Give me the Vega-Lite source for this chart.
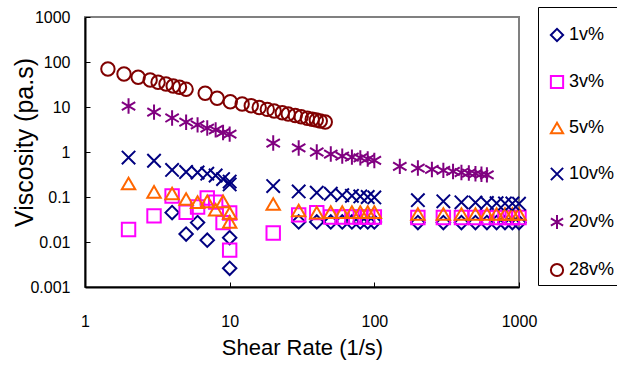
{
  "$schema": "https://vega.github.io/schema/vega-lite/v6.json",
  "width": 434,
  "height": 270,
  "autosize": {"type": "none"},
  "padding": {"left": 85, "top": 17, "right": 98, "bottom": 80},
  "background": "white",
  "config": {
    "view": {"stroke": "#808080", "strokeWidth": 2},
    "font": "Liberation Sans",
    "axis": {"grid": false, "domainColor": "black", "domainWidth": 2, "tickColor": "black", "tickWidth": 1, "tickSize": -5, "labelColor": "black", "titleColor": "black", "labelFont": "Liberation Sans", "titleFont": "Liberation Sans", "labelFontSize": 16, "titleFontWeight": "normal", "labelFlush": false, "labelOverlap": false}
  },
  "data": {"values": [
    {"s":"1v%","x":4,"y":0.045},{"s":"1v%","x":5,"y":0.015},{"s":"1v%","x":6,"y":0.027},{"s":"1v%","x":7,"y":0.011},{"s":"1v%","x":10,"y":0.0125},{"s":"1v%","x":10,"y":0.0026},
    {"s":"1v%","x":30,"y":0.028},{"s":"1v%","x":40,"y":0.028},{"s":"1v%","x":50,"y":0.028},{"s":"1v%","x":60,"y":0.028},{"s":"1v%","x":70,"y":0.028},{"s":"1v%","x":80,"y":0.028},{"s":"1v%","x":90,"y":0.028},{"s":"1v%","x":100,"y":0.028},
    {"s":"1v%","x":200,"y":0.027},{"s":"1v%","x":300,"y":0.027},{"s":"1v%","x":400,"y":0.027},{"s":"1v%","x":500,"y":0.027},{"s":"1v%","x":600,"y":0.027},{"s":"1v%","x":700,"y":0.027},{"s":"1v%","x":800,"y":0.027},{"s":"1v%","x":900,"y":0.027},{"s":"1v%","x":1000,"y":0.027},

    {"s":"3v%","x":2,"y":0.019},{"s":"3v%","x":3,"y":0.038},{"s":"3v%","x":4,"y":0.105},{"s":"3v%","x":5,"y":0.046},{"s":"3v%","x":6,"y":0.06},{"s":"3v%","x":7,"y":0.095},{"s":"3v%","x":8,"y":0.077},{"s":"3v%","x":9,"y":0.027},{"s":"3v%","x":10,"y":0.044},{"s":"3v%","x":10,"y":0.0066},
    {"s":"3v%","x":20,"y":0.0158},{"s":"3v%","x":30,"y":0.04},{"s":"3v%","x":40,"y":0.045},{"s":"3v%","x":50,"y":0.036},{"s":"3v%","x":60,"y":0.036},{"s":"3v%","x":70,"y":0.036},{"s":"3v%","x":80,"y":0.036},{"s":"3v%","x":90,"y":0.036},{"s":"3v%","x":100,"y":0.036},
    {"s":"3v%","x":200,"y":0.035},{"s":"3v%","x":300,"y":0.035},{"s":"3v%","x":400,"y":0.035},{"s":"3v%","x":500,"y":0.035},{"s":"3v%","x":600,"y":0.035},{"s":"3v%","x":700,"y":0.035},{"s":"3v%","x":800,"y":0.035},{"s":"3v%","x":900,"y":0.035},{"s":"3v%","x":1000,"y":0.035},

    {"s":"5v%","x":2,"y":0.2},{"s":"5v%","x":3,"y":0.13},{"s":"5v%","x":4,"y":0.12},{"s":"5v%","x":5,"y":0.09},{"s":"5v%","x":6,"y":0.077},{"s":"5v%","x":7,"y":0.08},{"s":"5v%","x":8,"y":0.052},{"s":"5v%","x":9,"y":0.08},{"s":"5v%","x":10,"y":0.044},{"s":"5v%","x":10,"y":0.028},
    {"s":"5v%","x":20,"y":0.07},{"s":"5v%","x":30,"y":0.05},{"s":"5v%","x":40,"y":0.045},{"s":"5v%","x":50,"y":0.046},{"s":"5v%","x":60,"y":0.046},{"s":"5v%","x":70,"y":0.046},{"s":"5v%","x":80,"y":0.046},{"s":"5v%","x":90,"y":0.046},{"s":"5v%","x":100,"y":0.046},
    {"s":"5v%","x":200,"y":0.042},{"s":"5v%","x":300,"y":0.042},{"s":"5v%","x":400,"y":0.042},{"s":"5v%","x":500,"y":0.042},{"s":"5v%","x":600,"y":0.042},{"s":"5v%","x":700,"y":0.042},{"s":"5v%","x":800,"y":0.042},{"s":"5v%","x":900,"y":0.042},{"s":"5v%","x":1000,"y":0.042},

    {"s":"10v%","x":2,"y":0.75},{"s":"10v%","x":3,"y":0.64},{"s":"10v%","x":4,"y":0.4},{"s":"10v%","x":5,"y":0.36},{"s":"10v%","x":6,"y":0.35},{"s":"10v%","x":7,"y":0.33},{"s":"10v%","x":8,"y":0.3},{"s":"10v%","x":9,"y":0.25},{"s":"10v%","x":10,"y":0.22},{"s":"10v%","x":10,"y":0.19},
    {"s":"10v%","x":20,"y":0.175},{"s":"10v%","x":30,"y":0.133},{"s":"10v%","x":40,"y":0.125},{"s":"10v%","x":50,"y":0.118},{"s":"10v%","x":60,"y":0.11},{"s":"10v%","x":70,"y":0.106},{"s":"10v%","x":80,"y":0.103},{"s":"10v%","x":90,"y":0.1},{"s":"10v%","x":100,"y":0.098},
    {"s":"10v%","x":200,"y":0.085},{"s":"10v%","x":300,"y":0.08},{"s":"10v%","x":400,"y":0.076},{"s":"10v%","x":500,"y":0.075},{"s":"10v%","x":600,"y":0.074},{"s":"10v%","x":700,"y":0.073},{"s":"10v%","x":800,"y":0.072},{"s":"10v%","x":900,"y":0.072},{"s":"10v%","x":1000,"y":0.071},

    {"s":"20v%","x":2,"y":10.5},{"s":"20v%","x":3,"y":7.7},{"s":"20v%","x":4,"y":5.7},{"s":"20v%","x":5,"y":4.6},{"s":"20v%","x":6,"y":4.0},{"s":"20v%","x":7,"y":3.4},{"s":"20v%","x":8,"y":3.1},{"s":"20v%","x":9,"y":2.7},{"s":"20v%","x":10,"y":2.5},
    {"s":"20v%","x":20,"y":1.58},{"s":"20v%","x":30,"y":1.23},{"s":"20v%","x":40,"y":1.0},{"s":"20v%","x":50,"y":0.9},{"s":"20v%","x":60,"y":0.81},{"s":"20v%","x":70,"y":0.77},{"s":"20v%","x":80,"y":0.74},{"s":"20v%","x":90,"y":0.7},{"s":"20v%","x":100,"y":0.65},
    {"s":"20v%","x":150,"y":0.48},{"s":"20v%","x":200,"y":0.44},{"s":"20v%","x":250,"y":0.41},{"s":"20v%","x":300,"y":0.39},{"s":"20v%","x":350,"y":0.37},{"s":"20v%","x":400,"y":0.35},{"s":"20v%","x":450,"y":0.34},{"s":"20v%","x":500,"y":0.33},{"s":"20v%","x":550,"y":0.32},{"s":"20v%","x":600,"y":0.31},

    {"s":"28v%","x":1.44,"y":69.9},{"s":"28v%","x":1.86,"y":54.1},{"s":"28v%","x":2.33,"y":45.7},{"s":"28v%","x":2.82,"y":39.8},{"s":"28v%","x":3.2,"y":35.4},{"s":"28v%","x":3.63,"y":32.4},{"s":"28v%","x":4.07,"y":29.3},{"s":"28v%","x":4.5,"y":27.4},{"s":"28v%","x":5.0,"y":24.7},
    {"s":"28v%","x":6.77,"y":20.2},{"s":"28v%","x":8.19,"y":15.6},{"s":"28v%","x":10.1,"y":13.1},{"s":"28v%","x":12.2,"y":11.7},{"s":"28v%","x":14.1,"y":10.7},{"s":"28v%","x":16,"y":9.75},{"s":"28v%","x":18.2,"y":8.85},{"s":"28v%","x":20.3,"y":8.15},
    {"s":"28v%","x":23.1,"y":7.47},{"s":"28v%","x":25.4,"y":6.99},{"s":"28v%","x":28.4,"y":6.47},{"s":"28v%","x":31.2,"y":6.06},{"s":"28v%","x":34.4,"y":5.64},{"s":"28v%","x":37.2,"y":5.36},{"s":"28v%","x":39.7,"y":5.12},{"s":"28v%","x":42.3,"y":4.89},{"s":"28v%","x":45.8,"y":4.64}
  ]},
  "mark": {"type": "point", "filled": false, "strokeWidth": 2, "opacity": 1},
  "encoding": {
    "x": {"field": "x", "type": "quantitative",
      "scale": {"type": "log", "domain": [1, 1000], "nice": false},
      "axis": {"values": [1, 10, 100, 1000], "format": "~g", "labelPadding": 31, "title": "Shear Rate (1/s)", "titleFontSize": 22, "titleX": 217, "titleY": 67, "titleBaseline": "alphabetic"}},
    "y": {"field": "y", "type": "quantitative",
      "scale": {"type": "log", "domain": [0.001, 1000], "nice": false},
      "axis": {"values": [0.001, 0.01, 0.1, 1, 10, 100, 1000], "format": "~g", "labelPadding": 20, "title": "Viscosity (pa.s)", "titleFontSize": 25, "titleX": -61, "titleY": 125, "titleBaseline": "middle", "titleAngle": -90}},
    "color": {"field": "s", "type": "nominal",
      "scale": {"domain": ["1v%", "3v%", "5v%", "10v%", "20v%", "28v%"], "range": ["#000080", "#FF00FF", "#FF6600", "#000080", "#800080", "#800000"]},
      "legend": {"title": "\u00a0", "titleFontSize": 15, "titlePadding": 0, "orient": "none", "legendX": 453, "legendY": -10, "strokeColor": "black", "fillColor": "white", "padding": 4, "symbolOffset": 6, "rowPadding": 25, "labelFontSize": 18, "labelFont": "Liberation Sans", "labelColor": "black", "labelOffset": 3, "symbolStrokeWidth": 2, "symbolSize": 150}},
    "shape": {"field": "s", "type": "nominal",
      "scale": {"domain": ["1v%", "3v%", "5v%", "10v%", "20v%", "28v%"], "range": ["diamond", "square", "triangle-up", "M-1,-1L1,1M-1,1L1,-1", "M-1,-0.6L1,0.6M-1,0.6L1,-0.6M0,-1.15L0,1.15", "circle"]}},
    "size": {"value": 180}
  }
}
